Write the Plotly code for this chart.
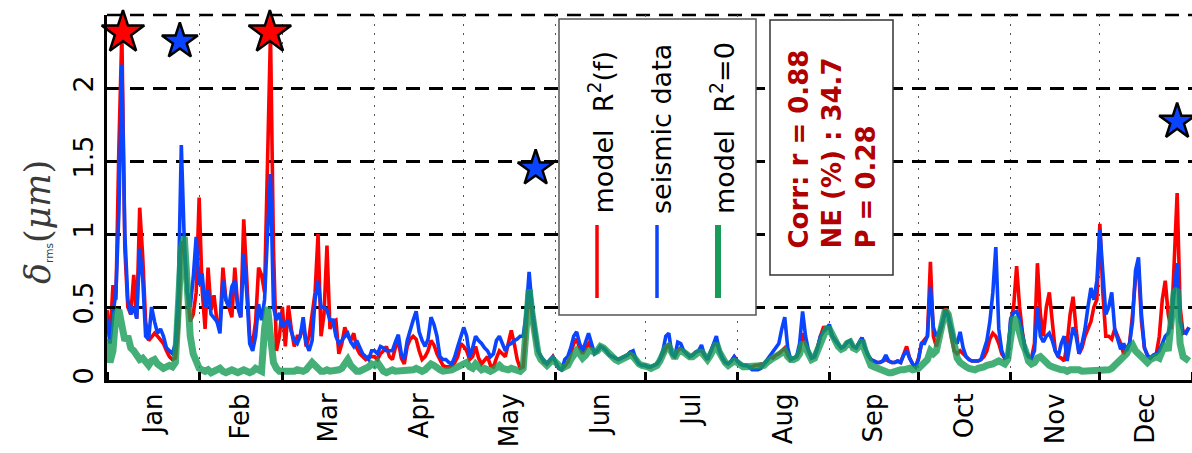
import pandas as pd
import plotly.graph_objects as go

# Daily RMS displacement, one value per day of 2013 (Jan .. Dec, one line per month)
model_rf = [
    0.48, 0.28, 0.65, 0.55, 1.6, 2.38, 0.9, 0.5, 0.45, 0.72, 0.42, 1.18, 0.85, 0.4, 0.27, 0.3, 0.32, 0.3, 0.27, 0.25, 0.2, 0.16, 0.14, 0.15, 0.35, 0.95, 0.9, 0.6, 0.4, 0.45, 0.6,
    1.25, 0.62, 0.35, 0.77, 0.48, 0.58, 0.4, 0.36, 0.77, 0.55, 0.5, 0.43, 0.77, 0.5, 0.43, 1.1, 0.66, 0.3, 0.25, 0.4, 0.77, 0.72, 0.6, 1.5, 2.38, 0.9, 0.2, 0.3,
    0.5, 0.23, 0.51, 0.35, 0.23, 0.3, 0.3, 0.39, 0.23, 0.3, 0.46, 0.6, 1.0, 0.3, 0.45, 0.92, 0.35, 0.4, 0.41, 0.18, 0.25, 0.36, 0.3, 0.27, 0.32, 0.22, 0.18, 0.16, 0.14, 0.16, 0.16,
    0.16, 0.14, 0.18, 0.2, 0.23, 0.16, 0.14, 0.22, 0.27, 0.15, 0.11, 0.23, 0.28, 0.3, 0.28, 0.2, 0.14, 0.16, 0.2, 0.27, 0.24, 0.18, 0.14, 0.1, 0.09, 0.09, 0.1, 0.12, 0.16, 0.25,
    0.23, 0.2, 0.14, 0.16, 0.23, 0.15, 0.11, 0.14, 0.16, 0.1, 0.09, 0.15, 0.2, 0.18, 0.16, 0.25, 0.34, 0.25, 0.14, 0.08, 0.09, 0.35, 0.68, 0.45, 0.3, 0.2, 0.16, 0.12, 0.11, 0.13, 0.16,
    0.12, 0.08, 0.07, 0.1, 0.12, 0.18, 0.25, 0.28, 0.22, 0.18, 0.22, 0.25, 0.22, 0.2, 0.2, 0.23, 0.22, 0.2, 0.17, 0.16, 0.15, 0.14, 0.15, 0.16, 0.17, 0.19, 0.17, 0.14, 0.11, 0.1,
    0.1, 0.09, 0.09, 0.1, 0.11, 0.14, 0.18, 0.22, 0.25, 0.18, 0.16, 0.2, 0.22, 0.2, 0.18, 0.16, 0.17, 0.19, 0.2, 0.2, 0.17, 0.14, 0.19, 0.24, 0.26, 0.2, 0.15, 0.12, 0.11, 0.13, 0.16,
    0.13, 0.11, 0.1, 0.1, 0.09, 0.09, 0.1, 0.1, 0.11, 0.11, 0.13, 0.16, 0.15, 0.17, 0.18, 0.2, 0.22, 0.17, 0.14, 0.15, 0.16, 0.2, 0.32, 0.25, 0.2, 0.15, 0.16, 0.22, 0.3, 0.36, 0.36,
    0.36, 0.3, 0.27, 0.24, 0.22, 0.23, 0.26, 0.27, 0.23, 0.22, 0.25, 0.29, 0.22, 0.17, 0.14, 0.13, 0.12, 0.12, 0.13, 0.14, 0.13, 0.12, 0.12, 0.13, 0.12, 0.17, 0.23, 0.15, 0.11, 0.09,
    0.15, 0.25, 0.28, 0.3, 0.81, 0.3, 0.23, 0.3, 0.38, 0.49, 0.45, 0.3, 0.2, 0.18, 0.2, 0.18, 0.16, 0.14, 0.13, 0.13, 0.13, 0.14, 0.16, 0.2, 0.28, 0.32, 0.3, 0.25, 0.18, 0.15, 0.16,
    0.4, 0.5, 0.78, 0.5, 0.32, 0.2, 0.16, 0.15, 0.25, 0.8, 0.45, 0.3, 0.5, 0.6, 0.4, 0.2, 0.16, 0.15, 0.13, 0.25, 0.45, 0.57, 0.35, 0.18, 0.22, 0.3, 0.35, 0.4, 0.5, 0.55,
    1.07, 0.6, 0.3, 0.3, 0.28, 0.35, 0.3, 0.25, 0.18, 0.22, 0.25, 0.45, 0.7, 0.78, 0.4, 0.22, 0.17, 0.15, 0.17, 0.18, 0.3, 0.55, 0.68, 0.45, 0.35, 0.8, 1.28, 0.5, 0.32, 0.33, 0.36,
]

seismic = [
    0.42, 0.25, 0.45, 0.6, 1.15, 2.16, 1.0, 0.55, 0.45, 0.5, 0.42, 0.9, 0.7, 0.3, 0.28, 0.5, 0.4, 0.32, 0.35, 0.3, 0.22, 0.2, 0.18, 0.25, 0.6, 1.61, 0.95, 0.6, 0.5, 0.7, 0.98,
    0.65, 0.73, 0.5, 0.62, 0.45, 0.42, 0.4, 0.32, 0.68, 0.55, 0.5, 0.64, 0.68, 0.5, 0.43, 0.86, 0.6, 0.25, 0.2, 0.3, 0.52, 0.41, 0.55, 1.0, 1.41, 0.5, 0.41, 0.46,
    0.36, 0.39, 0.41, 0.33, 0.27, 0.25, 0.3, 0.43, 0.25, 0.2, 0.27, 0.55, 0.68, 0.5, 0.5, 0.48, 0.41, 0.41, 0.3, 0.25, 0.27, 0.3, 0.32, 0.26, 0.23, 0.27, 0.22, 0.18, 0.16, 0.14, 0.2,
    0.2, 0.18, 0.23, 0.22, 0.2, 0.2, 0.2, 0.26, 0.31, 0.18, 0.14, 0.27, 0.35, 0.41, 0.47, 0.33, 0.27, 0.23, 0.28, 0.43, 0.38, 0.3, 0.16, 0.14, 0.14, 0.12, 0.11, 0.16, 0.23, 0.3,
    0.36, 0.3, 0.16, 0.22, 0.3, 0.27, 0.25, 0.22, 0.2, 0.16, 0.18, 0.27, 0.3, 0.25, 0.2, 0.24, 0.25, 0.27, 0.28, 0.3, 0.3, 0.45, 0.74, 0.5, 0.36, 0.2, 0.16, 0.13, 0.11, 0.14, 0.16,
    0.12, 0.08, 0.07, 0.14, 0.16, 0.22, 0.3, 0.33, 0.25, 0.2, 0.26, 0.32, 0.25, 0.18, 0.2, 0.23, 0.22, 0.2, 0.17, 0.16, 0.15, 0.14, 0.15, 0.16, 0.17, 0.19, 0.2, 0.14, 0.11, 0.1,
    0.1, 0.09, 0.09, 0.1, 0.11, 0.14, 0.2, 0.3, 0.32, 0.18, 0.16, 0.26, 0.25, 0.2, 0.18, 0.16, 0.17, 0.19, 0.2, 0.24, 0.17, 0.14, 0.19, 0.24, 0.3, 0.2, 0.15, 0.12, 0.11, 0.13, 0.16,
    0.13, 0.11, 0.1, 0.1, 0.09, 0.07, 0.07, 0.07, 0.08, 0.11, 0.13, 0.16, 0.2, 0.22, 0.25, 0.35, 0.43, 0.22, 0.14, 0.15, 0.16, 0.25, 0.47, 0.3, 0.2, 0.15, 0.16, 0.22, 0.3, 0.33, 0.35,
    0.38, 0.3, 0.27, 0.24, 0.22, 0.23, 0.26, 0.27, 0.23, 0.22, 0.25, 0.29, 0.22, 0.17, 0.14, 0.13, 0.12, 0.12, 0.13, 0.17, 0.13, 0.12, 0.12, 0.13, 0.12, 0.17, 0.2, 0.15, 0.11, 0.09,
    0.14, 0.25, 0.25, 0.3, 0.64, 0.36, 0.3, 0.33, 0.4, 0.46, 0.44, 0.36, 0.28, 0.25, 0.33, 0.22, 0.16, 0.14, 0.13, 0.13, 0.13, 0.14, 0.2, 0.27, 0.4, 0.6, 0.91, 0.35, 0.2, 0.15, 0.16,
    0.42, 0.46, 0.47, 0.42, 0.3, 0.2, 0.16, 0.15, 0.2, 0.5, 0.3, 0.26, 0.3, 0.32, 0.27, 0.2, 0.16, 0.25, 0.3, 0.13, 0.25, 0.36, 0.3, 0.18, 0.25, 0.35, 0.5, 0.63, 0.55, 0.68,
    1.03, 0.7, 0.45, 0.5, 0.6, 0.35, 0.28, 0.21, 0.25, 0.2, 0.25, 0.4, 0.75, 0.84, 0.45, 0.22, 0.17, 0.15, 0.17, 0.18, 0.2, 0.25, 0.3, 0.32, 0.4, 0.6, 0.8, 0.4, 0.33, 0.32, 0.36,
]

model_r0 = [
    0.28, 0.12, 0.2, 0.45, 0.48, 0.35, 0.27, 0.3, 0.22, 0.2, 0.16, 0.14, 0.15, 0.12, 0.1, 0.13, 0.14, 0.11, 0.09, 0.08, 0.09, 0.1, 0.09, 0.12, 0.5, 0.9, 0.98, 0.6, 0.3, 0.18, 0.12,
    0.08, 0.07, 0.06, 0.07, 0.05, 0.06, 0.07, 0.08, 0.06, 0.05, 0.06, 0.07, 0.06, 0.05, 0.06, 0.07, 0.06, 0.05, 0.06, 0.08, 0.07, 0.06, 0.35, 0.5, 0.3, 0.12, 0.08, 0.06,
    0.06, 0.06, 0.05, 0.06, 0.06, 0.07, 0.06, 0.06, 0.07, 0.09, 0.12, 0.1, 0.07, 0.06, 0.06, 0.07, 0.06, 0.06, 0.06, 0.07, 0.08, 0.12, 0.14, 0.1, 0.07, 0.06, 0.06, 0.07, 0.07, 0.09, 0.11,
    0.1, 0.12, 0.08, 0.06, 0.05, 0.06, 0.07, 0.06, 0.06, 0.07, 0.07, 0.06, 0.06, 0.07, 0.08, 0.07, 0.06, 0.07, 0.09, 0.11, 0.1, 0.08, 0.07, 0.06, 0.06, 0.07, 0.07, 0.08, 0.09, 0.1,
    0.1, 0.12, 0.09, 0.08, 0.11, 0.09, 0.07, 0.08, 0.07, 0.06, 0.07, 0.09, 0.1, 0.08, 0.07, 0.07, 0.08, 0.07, 0.06, 0.06, 0.08, 0.3, 0.62, 0.45, 0.3, 0.18, 0.14, 0.12, 0.1, 0.12, 0.14,
    0.12, 0.09, 0.08, 0.09, 0.1, 0.14, 0.18, 0.2, 0.18, 0.15, 0.17, 0.2, 0.2, 0.19, 0.2, 0.23, 0.22, 0.2, 0.17, 0.15, 0.14, 0.13, 0.14, 0.15, 0.16, 0.17, 0.16, 0.13, 0.11, 0.1,
    0.1, 0.09, 0.08, 0.09, 0.1, 0.13, 0.18, 0.22, 0.23, 0.18, 0.15, 0.19, 0.2, 0.19, 0.17, 0.16, 0.16, 0.18, 0.19, 0.19, 0.16, 0.14, 0.17, 0.21, 0.25, 0.19, 0.14, 0.12, 0.1, 0.11, 0.13,
    0.12, 0.1, 0.09, 0.09, 0.09, 0.1, 0.1, 0.1, 0.1, 0.1, 0.12, 0.14, 0.15, 0.16, 0.17, 0.19, 0.2, 0.16, 0.14, 0.14, 0.15, 0.18, 0.26, 0.22, 0.18, 0.14, 0.15, 0.2, 0.27, 0.33, 0.35,
    0.35, 0.3, 0.26, 0.23, 0.21, 0.22, 0.25, 0.26, 0.22, 0.21, 0.23, 0.27, 0.2, 0.14, 0.1, 0.09, 0.08, 0.07, 0.07, 0.06, 0.05, 0.05, 0.06, 0.06, 0.07, 0.07, 0.08, 0.08, 0.07, 0.07,
    0.08, 0.1, 0.12, 0.14, 0.2, 0.18, 0.2, 0.28, 0.38, 0.48, 0.45, 0.33, 0.22, 0.15, 0.12, 0.1, 0.09, 0.08, 0.07, 0.07, 0.08, 0.08, 0.09, 0.1, 0.1, 0.11, 0.12, 0.13, 0.12, 0.11, 0.14,
    0.3, 0.43, 0.4, 0.3, 0.25, 0.2, 0.13, 0.11, 0.12, 0.15, 0.16, 0.14, 0.11, 0.1, 0.09, 0.08, 0.08, 0.07, 0.07, 0.06, 0.07, 0.07, 0.08, 0.07, 0.06, 0.06, 0.07, 0.06, 0.06, 0.07,
    0.07, 0.06, 0.06, 0.07, 0.08, 0.1, 0.12, 0.13, 0.15, 0.18, 0.22, 0.24, 0.2, 0.18, 0.16, 0.14, 0.12, 0.14, 0.15, 0.16, 0.15, 0.2, 0.25, 0.2, 0.4, 0.6, 0.62, 0.25, 0.16, 0.14, 0.13,
]

# Event markers (stars)
red_star_times = ["2013-01-06 09:00", "2013-02-24 19:00"]
red_star_values = [2.38, 2.38]
blue_star_times = ["2013-01-25 12:00", "2013-05-25 05:00", "2013-12-27 00:00"]
blue_star_values = [2.32, 1.45, 1.77]

y_tick_values = [0, 0.5, 1, 1.5, 2]
y_tick_labels = ["0", "0.5", "1", "1.5", "2"]
y_top = 2.5

stats_lines = ["Corr: r = 0.88", "NE (%) : 34.7", "P = 0.28"]
legend_labels = ["model\u00a0\u00a0R<sup>2</sup>(f)", "seismic data", "model\u00a0\u00a0R<sup>2</sup>=0"]

assert len(model_rf) == len(seismic) == len(model_r0) == 365
days = pd.date_range("2013-01-01", periods=365, freq="D")

RED = "#ff0000"
BLUE = "#0a44ff"
GREEN = "#169c56"
FONT = "DejaVu Sans"

# plot-area pixel frame
W, H = 1192, 453
L, R, T, B = 107, 0, 15, 73
PW, PH = W - L - R, H - T - B


def px_x(px):
    return (px - L) / PW


def px_y(py):
    return (H - B - py) / PH


fig = go.Figure()
fig.add_trace(go.Scatter(x=days, y=model_rf, mode="lines",
                         line=dict(color=RED, width=3.6), showlegend=False))
fig.add_trace(go.Scatter(x=days, y=seismic, mode="lines",
                         line=dict(color=BLUE, width=3.6), showlegend=False))
fig.add_trace(go.Scatter(x=days, y=model_r0, mode="lines", opacity=0.8,
                         line=dict(color=GREEN, width=7), showlegend=False))
fig.add_trace(go.Scatter(x=red_star_times, y=red_star_values, mode="markers", cliponaxis=False,
                         marker=dict(symbol="star", size=32, color=RED,
                                     line=dict(color="black", width=2.5)),
                         showlegend=False))
fig.add_trace(go.Scatter(x=blue_star_times, y=blue_star_values, mode="markers", cliponaxis=False,
                         marker=dict(symbol="star", size=27, color=BLUE,
                                     line=dict(color="black", width=2.5)),
                         showlegend=False))

shapes = []
annotations = []

# dashed grid line along the top edge of the axes (y = y_top)
shapes.append(dict(type="line", xref="paper", yref="paper", layer="below",
                   x0=0, x1=1, y0=1, y1=1,
                   line=dict(color="black", width=2.5, dash="14px,9px")))

# legend frame with vertical samples and rotated labels
shapes.append(dict(type="rect", xref="paper", yref="paper", layer="above",
                   x0=px_x(559), x1=px_x(756), y0=px_y(315), y1=px_y(19),
                   line=dict(color="#555555", width=1.5), fillcolor="white"))
for cx, color, width, label in [(597, RED, 3.5, legend_labels[0]),
                                (657, BLUE, 3.5, legend_labels[1]),
                                (718, GREEN, 6, legend_labels[2])]:
    shapes.append(dict(type="line", xref="paper", yref="paper", layer="above",
                       x0=px_x(cx), x1=px_x(cx), y0=px_y(298), y1=px_y(225),
                       line=dict(color=color, width=width)))
    annotations.append(dict(xref="paper", yref="paper", x=px_x(cx + 4), y=px_y(216),
                            xanchor="center", yanchor="bottom", textangle=-90,
                            showarrow=False, text=label,
                            font=dict(family=FONT, size=27, color="black")))

# statistics box
shapes.append(dict(type="rect", xref="paper", yref="paper", layer="above",
                   x0=px_x(770), x1=px_x(893), y0=px_y(275), y1=px_y(20),
                   line=dict(color="#333333", width=1.5), fillcolor="white"))
annotations.append(dict(xref="paper", yref="paper", x=px_x(832), y=px_y(251),
                        xanchor="center", yanchor="bottom", textangle=-90, align="left",
                        showarrow=False, text="<br>".join(stats_lines),
                        font=dict(family=FONT, size=26, color="#b00000", weight="bold")))

# y-axis title
annotations.append(dict(xref="paper", yref="paper", x=px_x(38), y=px_y(222),
                        xanchor="center", yanchor="middle", textangle=-90,
                        showarrow=False,
                        text="<i>δ</i><span style='font-size:15px;font-family:DejaVu Sans'><sub>rms</sub></span>(<i>μm</i>)",
                        font=dict(family="DejaVu Serif", size=35, color="#3a3a3a")))

fig.update_layout(
    width=W, height=H,
    margin=dict(l=L, r=R, t=T, b=B, pad=0),
    paper_bgcolor="white", plot_bgcolor="white",
    shapes=shapes, annotations=annotations,
    xaxis=dict(
        type="date", range=["2013-01-01", "2014-01-01"],
        dtick="M1", tick0="2013-01-01", tickformat="%b", ticklabelmode="period",
        tickangle=-90, ticks="inside", ticklen=8, tickwidth=3, tickcolor="black",
        tickfont=dict(family=FONT, size=26, color="black"),
        showline=True, linecolor="black", linewidth=3,
        showgrid=True, gridcolor="#555555", gridwidth=1.2, griddash="2px,7px",
        zeroline=False,
    ),
    yaxis=dict(
        range=[0, y_top], tickmode="array", tickvals=y_tick_values, ticktext=y_tick_labels,
        tickangle=-90, ticks="inside", ticklen=8, tickwidth=3, tickcolor="black",
        tickfont=dict(family=FONT, size=27, color="black"),
        showline=True, linecolor="black", linewidth=3,
        showgrid=True, gridcolor="black", gridwidth=2.5, griddash="14px,9px",
        zeroline=False,
    ),
)

fig.write_html("out.html")
